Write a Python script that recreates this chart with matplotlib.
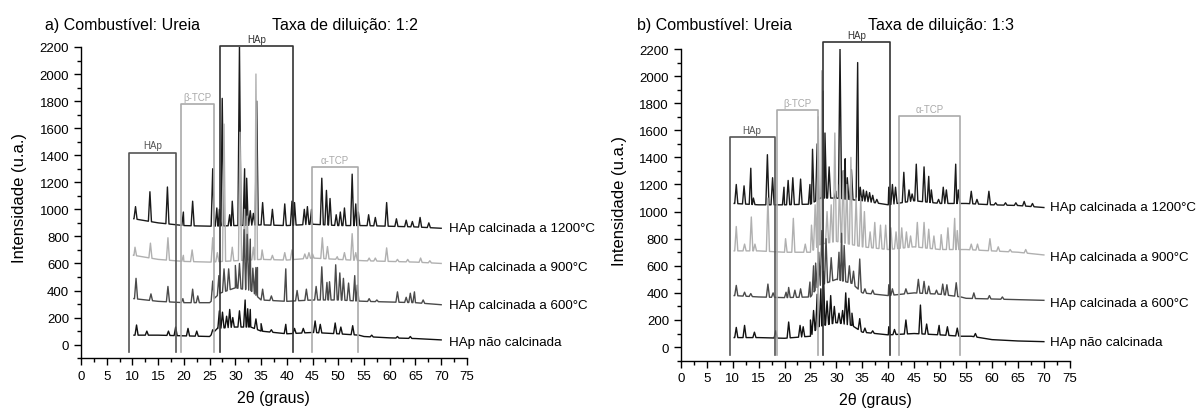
import numpy as np
import matplotlib
matplotlib.use("Agg")
import matplotlib.pyplot as plt
from matplotlib.ticker import MultipleLocator

plt.rcParams["font.family"] = ["Liberation Sans", "DejaVu Sans"]

# ---- data (2theta in degrees, intensity in a.u.) ----
# panel a) dilution 1:2
a_1200_base_x = [10.3, 15, 20, 25, 30, 35, 40, 45, 50, 55, 60, 65, 70]
a_1200_base_y = [930, 900, 880, 875, 880, 885, 880, 890, 880, 880, 875, 870, 860]
a_1200_peak_x = [10.6, 13.4, 16.8, 19.9, 21.7, 25.6, 26.4, 26.9, 27.45, 28.9, 29.4, 30.8,
                 31.8, 32.2, 32.9, 33.5, 34.15, 35.3, 37.2, 39.6, 41.0, 41.5, 43.4, 44.0,
                 44.8, 46.8, 47.7, 48.4, 49.6, 50.4, 51.2, 52.7, 53.4, 53.9, 55.9, 57.2,
                 59.4, 61.3, 63.2, 64.4, 65.9, 67.6]
a_1200_peak_y = [1020, 1130, 1165, 980, 1060, 1300, 1010, 1000, 1820, 960, 1060, 2210,
                 1300, 1230, 990, 970, 1800, 1050, 1000, 1040, 1060, 1050, 1000, 1020,
                 1000, 1230, 1140, 1080, 960, 980, 1010, 1260, 1040, 980, 960, 940,
                 1050, 930, 920, 910, 940, 900]

a_900_base_x = [10.3, 15, 20, 25, 30, 35, 40, 45, 50, 55, 60, 65, 70]
a_900_base_y = [660, 630, 615, 610, 620, 630, 625, 640, 630, 620, 615, 610, 600]
a_900_peak_x = [10.5, 13.5, 16.9, 19.9, 21.6, 25.6, 26.5, 27.8, 29.4, 30.9, 31.8, 32.3,
                33.5, 34.0, 35.2, 37.2, 39.6, 41.0, 43.5, 44.3, 45.0, 46.9, 47.9, 49.8,
                51.2, 52.7, 53.4, 56.0, 57.2, 59.4, 61.5, 63.5, 66.0, 67.8]
a_900_peak_y = [720, 750, 790, 660, 700, 790, 680, 1630, 720, 1570, 1000, 950,
                720, 2000, 700, 660, 680, 700, 670, 680, 670, 790, 725, 650,
                680, 820, 680, 640, 640, 715, 630, 630, 640, 620]

a_600_base_x = [10.3, 15, 20, 25, 27, 30, 33, 35, 40, 45, 50, 55, 60, 65, 70]
a_600_base_y = [340, 320, 310, 310, 380, 420, 400, 330, 320, 330, 330, 320, 315, 310, 295]
a_600_peak_x = [10.7, 13.6, 16.9, 19.8, 21.7, 22.7, 25.6, 26.8, 27.8, 28.7, 30.0, 30.8,
                31.7, 32.3, 32.9, 33.4, 34.0, 34.3, 35.3, 37.0, 39.8, 42.0, 43.8, 45.7,
                46.8, 47.8, 48.3, 49.5, 50.3, 51.0, 52.0, 53.2, 53.7, 56.0, 57.5, 61.5,
                63.2, 64.0, 64.8, 66.5]
a_600_peak_y = [490, 375, 430, 340, 410, 360, 470, 510, 560, 560, 585, 600,
                850, 815, 780, 565, 570, 570, 410, 360, 560, 400, 410, 430,
                575, 460, 465, 590, 530, 490, 455, 510, 440, 340, 330, 390,
                350, 380, 390, 330]

a_raw_base_x = [10.3, 15, 20, 25, 26.5, 30, 33, 35, 40, 45, 50, 54, 55, 60, 65, 70]
a_raw_base_y = [70, 70, 65, 60, 120, 130, 130, 100, 80, 90, 80, 70, 60, 50, 45, 35]
a_raw_peak_x = [10.8, 12.8, 17.0, 18.4, 20.8, 22.5, 25.6, 26.9, 27.5, 28.3, 28.9, 29.5,
                30.8, 31.9, 32.4, 32.9, 34.0, 35.0, 37.0, 39.8, 41.5, 43.2, 45.5, 46.5,
                49.4, 50.5, 52.8, 56.5, 61.5, 64.0]
a_raw_peak_y = [145, 100, 100, 130, 120, 100, 110, 250, 240, 210, 260, 200,
                250, 330, 265, 260, 190, 155, 110, 150, 120, 120, 175, 150,
                160, 130, 140, 70, 60, 60]

# panel b) dilution 1:3
b_1200_base_x = [10.3, 15, 20, 25, 27, 30, 35, 40, 45, 50, 55, 60, 65, 70]
b_1200_base_y = [1060, 1050, 1050, 1055, 1100, 1100, 1080, 1050, 1080, 1060, 1060, 1050, 1045, 1030]
b_1200_peak_x = [10.7, 12.2, 13.5, 14.0, 16.7, 17.7, 19.9, 20.7, 21.6, 23.1, 24.9, 25.4,
                 26.3, 27.4, 27.8, 28.6, 29.9, 30.7, 31.3, 31.7, 32.1, 32.9, 34.1, 34.6,
                 35.2, 35.8, 36.4, 37.0, 37.8, 40.1, 40.8, 41.4, 43.0, 44.0, 44.6, 45.4,
                 46.9, 47.8, 48.3, 49.7, 50.6, 51.2, 53.0, 53.5, 56.0, 57.1, 59.4, 60.7,
                 62.6, 64.6, 66.2, 67.8]
b_1200_peak_y = [1200, 1190, 1320, 1100, 1420, 1250, 1180, 1230, 1250, 1240, 1200, 1460,
                 1500, 1890, 1580, 1330, 1150, 2200, 1300, 1390, 1250, 1310, 2100, 1180,
                 1160, 1150, 1140, 1120, 1090, 1180, 1200, 1180, 1290, 1160, 1130, 1350,
                 1330, 1260, 1160, 1090, 1180, 1160, 1350, 1160, 1150, 1090, 1150, 1065,
                 1065, 1065, 1075, 1060]

b_900_base_x = [10.3, 15, 20, 25, 27, 30, 35, 40, 45, 50, 55, 60, 65, 70]
b_900_base_y = [710, 710, 700, 700, 760, 780, 740, 720, 740, 720, 720, 710, 700, 680]
b_900_peak_x = [10.7, 12.3, 13.6, 14.3, 16.8, 20.2, 21.7, 24.0, 25.2, 25.9, 26.5, 27.2,
                28.2, 29.0, 29.7, 30.6, 31.3, 32.0, 32.8, 33.8, 34.7, 35.4, 36.5, 37.4,
                38.5, 39.5, 40.5, 41.5, 42.6, 43.5, 44.3, 45.6, 46.9, 47.8, 48.8, 50.2,
                51.5, 52.8, 53.3, 56.0, 57.2, 59.6, 61.2, 63.5, 66.5]
b_900_peak_y = [890, 760, 960, 760, 1100, 800, 950, 760, 900, 1050, 1700, 2040,
                1000, 1050, 1580, 1200, 1300, 1200, 1400, 1100, 1100, 1000, 850, 920,
                900, 900, 880, 850, 880, 850, 820, 920, 920, 870, 820, 830,
                880, 950, 860, 760, 760, 800, 740, 720, 720]

b_600_base_x = [10.3, 15, 20, 25, 26.5, 30, 33, 35, 40, 45, 50, 54, 55, 60, 65, 70]
b_600_base_y = [380, 370, 365, 370, 450, 500, 470, 400, 380, 400, 390, 370, 360, 355, 350, 345]
b_600_peak_x = [10.7, 12.3, 13.5, 16.8, 17.8, 20.3, 20.8, 22.0, 23.1, 24.9, 25.6, 26.0,
                26.6, 27.2, 28.0, 29.0, 30.5, 31.0, 31.5, 32.5, 33.3, 34.5, 35.5, 37.0,
                40.1, 40.8, 43.4, 45.8, 46.9, 47.8, 49.3, 50.5, 51.3, 53.1, 56.5, 59.5,
                62.0]
b_600_peak_y = [455, 405, 395, 465, 400, 405, 440, 420, 430, 480, 600, 620,
                700, 860, 800, 660, 700, 840, 750, 600, 560, 650, 430, 420,
                460, 430, 430, 500, 485, 450, 420, 465, 460, 475, 400, 380,
                370]

b_raw_base_x = [10.3, 15, 20, 25, 26.5, 30, 33, 35, 40, 45, 50, 54, 56, 60, 65, 70]
b_raw_base_y = [70, 70, 65, 80, 150, 180, 160, 110, 90, 100, 90, 80, 80, 55, 45, 40]
b_raw_peak_x = [10.7, 12.3, 14.2, 18.3, 20.8, 23.0, 23.6, 25.0, 25.6, 26.3, 27.0, 27.5,
                28.2, 28.9, 29.6, 30.5, 31.2, 31.8, 32.4, 33.0, 34.5, 35.5, 37.0, 40.1,
                41.2, 43.4, 46.2, 47.4, 49.8, 51.4, 53.3, 56.8]
b_raw_peak_y = [145, 160, 110, 120, 185, 160, 150, 200, 270, 390, 430, 560,
                340, 380, 300, 250, 270, 400, 360, 250, 210, 140, 120, 150,
                130, 200, 310, 170, 160, 150, 140, 100]

series_labels = ["HAp calcinada a 1200°C", "HAp calcinada a 900°C",
                 "HAp calcinada a 600°C", "HAp não calcinada"]
series_colors = ["#1a1a1a", "#b0b0b0", "#4a4a4a", "#111111"]

# phase boxes: (label, x_left, x_right, top)
a_boxes = [("HAp", 9.4, 18.5, 1420), ("β-TCP", 19.5, 25.9, 1775),
           ("HAp", 27.0, 41.3, 2210), ("α-TCP", 44.8, 53.9, 1310)]
b_boxes = [("HAp", 9.4, 18.1, 1550), ("β-TCP", 18.6, 26.5, 1753),
           ("HAp", 27.4, 40.3, 2254), ("α-TCP", 42.0, 53.8, 1708)]
box_colors = ["#555555", "#aaaaaa", "#333333", "#aaaaaa"]
box_bottom = -55

a_label_y = [860, 573, 293, 20]
b_label_y = [1033, 664, 325, 37]


def trace_xy(base_x, base_y, peak_x, peak_y, half=0.3):
    px = np.asarray(peak_x, float)
    feet = np.concatenate([px - half, px + half])
    xs = np.concatenate([base_x, px, feet])
    ys = np.concatenate([base_y, peak_y, np.interp(feet, base_x, base_y)])
    order = np.argsort(xs, kind="stable")
    return xs[order], ys[order]


def draw_panel(ax, traces, boxes, label_y, label_x):
    for (bx, by, px, py), color in zip(traces, series_colors):
        x, y = trace_xy(bx, by, px, py)
        ax.plot(x, y, color=color, linewidth=1.0)

    for (name, x0, x1, top), color in zip(boxes, box_colors):
        ax.plot([x0, x0, x1, x1], [box_bottom, top, top, box_bottom],
                color=color, linewidth=1.2, clip_on=False)
        ax.text((x0 + x1) / 2, top + 15, name, ha="center", va="bottom",
                fontsize=7, color=color, clip_on=False)

    for text, y in zip(series_labels, label_y):
        ax.text(label_x, y, text, ha="left", va="center", fontsize=9.6, clip_on=False)

    ax.set_xlim(0, 75)
    ax.set_ylim(-100, 2200)
    ax.xaxis.set_major_locator(MultipleLocator(5))
    ax.xaxis.set_minor_locator(MultipleLocator(2.5))
    ax.yaxis.set_minor_locator(MultipleLocator(100))
    ax.set_yticks(range(0, 2201, 200))
    ax.tick_params(which="major", direction="out", length=5, width=1, labelsize=9.5)
    ax.tick_params(which="minor", direction="out", length=3, width=1)
    for side in ("top", "right"):
        ax.spines[side].set_visible(False)
    for side in ("left", "bottom"):
        ax.spines[side].set_linewidth(1.0)


fig = plt.figure(figsize=(11.96, 4.10), dpi=100)
ax_a = fig.add_axes([0.0677, 0.124, 0.3227, 0.759])
ax_b = fig.add_axes([0.5692, 0.118, 0.3253, 0.760])

draw_panel(ax_a,
           [(a_1200_base_x, a_1200_base_y, a_1200_peak_x, a_1200_peak_y),
            (a_900_base_x, a_900_base_y, a_900_peak_x, a_900_peak_y),
            (a_600_base_x, a_600_base_y, a_600_peak_x, a_600_peak_y),
            (a_raw_base_x, a_raw_base_y, a_raw_peak_x, a_raw_peak_y)],
           a_boxes, a_label_y, 71.5)
draw_panel(ax_b,
           [(b_1200_base_x, b_1200_base_y, b_1200_peak_x, b_1200_peak_y),
            (b_900_base_x, b_900_base_y, b_900_peak_x, b_900_peak_y),
            (b_600_base_x, b_600_base_y, b_600_peak_x, b_600_peak_y),
            (b_raw_base_x, b_raw_base_y, b_raw_peak_x, b_raw_peak_y)],
           b_boxes, b_label_y, 71.2)

fig.text(0.0376, 0.939, "a) Combustível: Ureia", fontsize=11.5, va="center")
fig.text(0.2274, 0.939, "Taxa de diluição: 1:2", fontsize=11.5, va="center")
fig.text(0.5326, 0.939, "b) Combustível: Ureia", fontsize=11.5, va="center")
fig.text(0.7258, 0.939, "Taxa de diluição: 1:3", fontsize=11.5, va="center")

fig.text(0.0159, 0.517, "Intensidade (u.a.)", rotation=90, fontsize=12,
         ha="center", va="center")
fig.text(0.5176, 0.51, "Intensidade (u.a.)", rotation=90, fontsize=12,
         ha="center", va="center")
fig.text(0.229, 0.029, "2θ (graus)", fontsize=11.5, ha="center", va="center")
fig.text(0.732, 0.022, "2θ (graus)", fontsize=11.5, ha="center", va="center")

fig.savefig("out.png", dpi=100)
